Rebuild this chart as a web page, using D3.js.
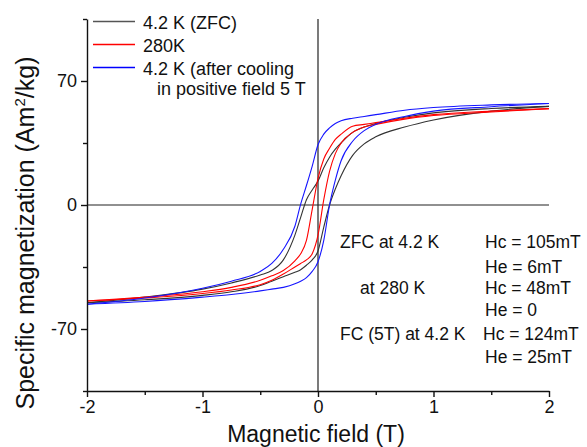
<!DOCTYPE html>
<meta charset="utf-8">
<script src="https://d3js.org/d3.v7.min.js"></script>
<style>
  body { margin: 0; background: #fff; }
  text { font-family: "Liberation Sans", Arial, sans-serif; fill: #111; }
</style>
<div id="my_dataviz"></div>
<script>

// field values (T) shared by every branch
var field = [-2, -1.5, -1, -0.75, -0.5, -0.4, -0.3, -0.2, -0.15, -0.1, -0.05, 0,
             0.05, 0.1, 0.15, 0.2, 0.3, 0.4, 0.5, 0.75, 1, 1.5, 2];

// 4.2 K ZFC
var zfcDown = [-55.2, -52, -47.5, -44, -39.5, -37, -31, -17, -7, 3, 8.5, 13.5,
               21, 27, 31.5, 35, 41, 44, 46, 49.5, 52, 54.5, 55.7];
var zfcUp   = [-55.2, -53.5, -51, -49, -45.5, -43, -40.5, -38, -36.5, -34, -31, -26,
               -12.5, 0, 9, 16.5, 28, 34.5, 38.5, 44, 48, 53, 55.7];
// 280 K
var k280Down = [-54.2, -52, -49, -46.5, -42.5, -40, -37, -31.5, -27.5, -20, -2.5, 15,
                26, 32, 37, 40, 44.5, 45.5, 46.5, 49, 51, 53, 54.4];
var k280Up   = [-54.2, -52.5, -50, -48, -45, -42.5, -39, -35, -33, -31, -27.5, -17,
                3, 19, 29, 35, 41, 44, 45.5, 48.5, 50.5, 52.5, 54.4];
// 4.2 K after field cooling in +5 T
var fcDown = [-56, -52.5, -47, -43, -37.5, -33, -25, -12, 0.5, 11, 22, 34,
              40, 43.5, 46, 47.5, 49, 50, 51, 53.5, 55, 56.5, 57.3];
var fcUp   = [-56, -54.5, -52, -50.5, -48.5, -47.5, -46.5, -44.5, -43, -41, -37.5, -32,
              -20, 0, 14, 25, 36, 42, 45.5, 50, 53, 55.5, 57.3];

var legendLabels = ["4.2 K (ZFC)", "280K", "4.2 K (after cooling"];
var legendColors = ["#555555", "#ff0000", "#0000ff"];
var xTicks = [-2, -1, 0, 1, 2];
var xMinor = [-1.5, -0.5, 0.5, 1.5];
var yTicks = [-70, 0, 70];
var yMinor = [-105, -35, 35, 105];

var noteLeft  = ["ZFC at 4.2 K", "", "at 280 K", "", "FC (5T) at 4.2 K", ""];
var noteRight = ["Hc = 105mT", "He = 6mT", "Hc = 48mT", "He = 0", "Hc = 124mT", "He = 25mT"];

var margin = {top: 19, right: 38, bottom: 56, left: 87},
    width = 587 - margin.left - margin.right,
    height = 447 - margin.top - margin.bottom;

var svg = d3.select("#my_dataviz")
  .append("svg")
    .attr("width", 587)
    .attr("height", 447)
  .append("g")
    .attr("transform", "translate(" + margin.left + "," + margin.top + ")");

var x = d3.scaleLinear().domain([-2, 2]).range([0, width]);
var y = d3.scaleLinear().domain([-105, 105]).range([height, 0]);

// zero lines
svg.append("line")
  .attr("x1", 0).attr("x2", width).attr("y1", y(0)).attr("y2", y(0))
  .attr("stroke", "#222").attr("stroke-width", 1.2);
svg.append("line")
  .attr("x1", x(0)).attr("x2", x(0)).attr("y1", 0).attr("y2", height)
  .attr("stroke", "#222").attr("stroke-width", 1.2);

// curves
var series = [
  {color: "#333", down: zfcDown, up: zfcUp},
  {color: "#ff0000", down: k280Down, up: k280Up},
  {color: "#1515ff", down: fcDown, up: fcUp}
];

var line = d3.line()
  .x(function(d) { return x(d[0]); })
  .y(function(d) { return y(d[1]); })
  .curve(d3.curveMonotoneX);

series.forEach(function(s) {
  [s.down, s.up].forEach(function(vals) {
    svg.append("path")
      .datum(field.map(function(h, i) { return [h, vals[i]]; }))
      .attr("fill", "none")
      .attr("stroke", s.color)
      .attr("stroke-width", 1.1)
      .attr("d", line);
  });
});

// axes
var fmt = function(d) { return String(d); };
var xAxis = svg.append("g")
  .attr("transform", "translate(0," + height + ")")
  .call(d3.axisBottom(x).tickValues(xTicks).tickSize(6).tickPadding(3)
        .tickFormat(fmt).tickSizeOuter(0));
svg.append("g")
  .attr("transform", "translate(0," + height + ")")
  .call(d3.axisBottom(x).tickValues(xMinor).tickSize(4).tickFormat("").tickSizeOuter(0))
  .select(".domain").remove();

var yAxis = svg.append("g")
  .call(d3.axisLeft(y).tickValues(yTicks).tickSize(6).tickPadding(4)
        .tickFormat(fmt).tickSizeOuter(0));
svg.append("g")
  .call(d3.axisLeft(y).tickValues(yMinor).tickSize(4).tickFormat("").tickSizeOuter(0))
  .select(".domain").remove();

svg.selectAll(".domain, .tick line").attr("stroke", "#111").attr("stroke-width", 1.4);
xAxis.selectAll("text").style("font-size", "18px").attr("fill", "#111");
yAxis.selectAll("text").style("font-size", "18px").attr("fill", "#111");

// axis titles
svg.append("text")
  .attr("x", width / 2 - 2)
  .attr("y", height + 51)
  .attr("text-anchor", "middle")
  .style("font-size", "23px")
  .text("Magnetic field (T)");

var yt = svg.append("text")
  .attr("transform", "translate(-53," + 214 + ")rotate(-90)")
  .attr("text-anchor", "middle")
  .style("font-size", "25px");
yt.append("tspan").text("Specific magnetization (Am");
yt.append("tspan").attr("dy", -9).style("font-size", "15px").text("2");
yt.append("tspan").attr("dy", 9).text("/kg)");

// legend
var legend = svg.append("g");
legendLabels.forEach(function(lbl, i) {
  var ly = 2.5 + i * 23;
  legend.append("line")
    .attr("x1", 6).attr("x2", 48).attr("y1", ly).attr("y2", ly)
    .attr("stroke", legendColors[i]).attr("stroke-width", 1.3);
  legend.append("text")
    .attr("x", 56).attr("y", ly + 7)
    .style("font-size", "18px")
    .text(lbl);
});
legend.append("text")
  .attr("x", 70).attr("y", 76)
  .style("font-size", "18px")
  .text("in positive field 5 T");

// annotation
var noteY = [229, 254, 275, 297, 321, 344];
noteLeft.forEach(function(t, i) {
  svg.append("text")
    .attr("x", i === 2 ? 273 : 253).attr("y", noteY[i])
    .style("font-size", "17.5px")
    .text(t);
});
noteRight.forEach(function(t, i) {
  svg.append("text")
    .attr("x", i === 4 ? 396 : 398).attr("y", noteY[i])
    .style("font-size", "17.5px")
    .text(t);
});

</script>
